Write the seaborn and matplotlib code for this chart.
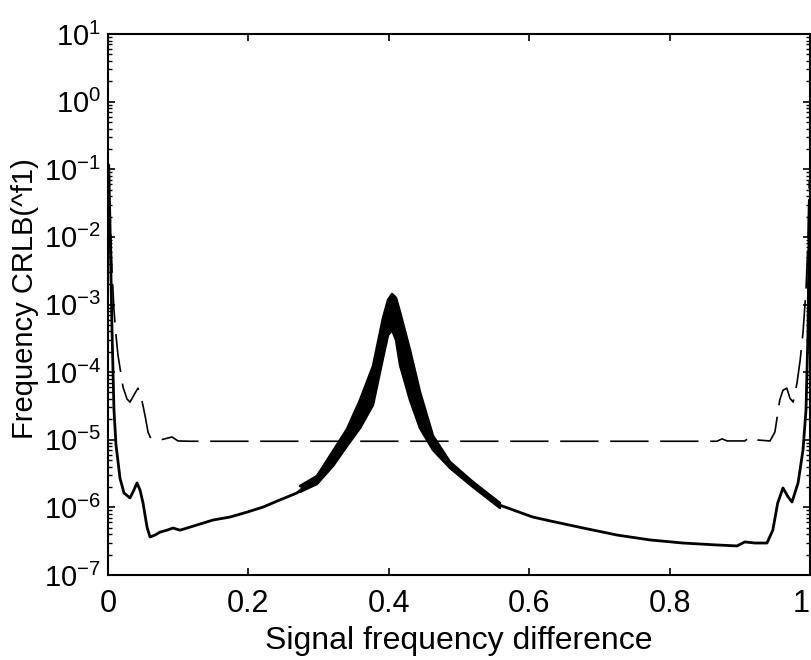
import numpy as np
import pandas as pd
import matplotlib
matplotlib.use("Agg")
import matplotlib.pyplot as plt
import seaborn as sns
from matplotlib.ticker import FixedLocator, FixedFormatter, LogLocator, NullFormatter

# ---- data ----
# solid curve (centre line)
sol_x = [0.001, 0.003, 0.0057, 0.0085, 0.0114, 0.0171, 0.0228, 0.0313, 0.037, 0.0413,
         0.0456, 0.0499, 0.0556, 0.0598, 0.067, 0.074, 0.084, 0.0926, 0.1026, 0.1268,
         0.1496, 0.1738, 0.198, 0.2208, 0.245, 0.269, 0.292, 0.316, 0.340, 0.359,
         0.377, 0.392, 0.400, 0.4046, 0.4088, 0.416, 0.430, 0.444, 0.463, 0.487,
         0.520, 0.558, 0.605, 0.630, 0.677, 0.725, 0.772, 0.819, 0.8675, 0.896,
         0.907, 0.9217, 0.9387, 0.947, 0.954, 0.9615, 0.9687, 0.9744, 0.983, 0.990,
         0.9943, 0.9972, 0.999]
sol_y = [1.16e-1, 1.26e-2, 4.2e-4, 2.75e-5, 8.4e-6, 2.7e-6, 1.63e-6, 1.38e-6, 1.81e-6, 2.3e-6,
         1.81e-6, 1.16e-6, 5.1e-7, 3.65e-7, 3.9e-7, 4.3e-7, 4.6e-7, 4.95e-7, 4.6e-7, 5.5e-7,
         6.5e-7, 7.2e-7, 8.5e-7, 1.01e-6, 1.29e-6, 1.63e-6, 2.45e-6, 4.7e-6, 1.06e-5, 2.75e-5,
         9.1e-5, 3.5e-4, 8.9e-4, 1.29e-3, 9.8e-4, 4.2e-4, 1.07e-4, 4.1e-5, 9.3e-6, 4.2e-6,
         2.3e-6, 1.08e-6, 7.2e-7, 6.3e-7, 4.95e-7, 3.9e-7, 3.3e-7, 2.97e-7, 2.78e-7, 2.69e-7,
         3.08e-7, 2.97e-7, 2.97e-7, 4.6e-7, 1.16e-6, 1.94e-6, 1.43e-6, 1.2e-6, 2.3e-6, 7.0e-6,
         2.75e-5, 4.2e-4, 3.5e-2]

# spread of the solid curve around the peak (upper / lower envelope)
band_x = [0.2735, 0.2977, 0.3205, 0.3405, 0.359, 0.3775, 0.3917, 0.3989, 0.4046,
          0.4103, 0.416, 0.4302, 0.4444, 0.463, 0.4872, 0.52, 0.5584]
band_hi = [2.07e-6, 2.91e-6, 6.8e-6, 1.44e-5, 3.87e-5, 1.23e-4, 6.3e-4, 1.17e-3, 1.43e-3,
           1.25e-3, 7.7e-4, 2.12e-4, 5.1e-5, 1.14e-5, 4.7e-6, 2.37e-6, 1.16e-6]
band_lo = [1.69e-6, 2.22e-6, 4.1e-6, 8.1e-6, 1.49e-5, 3.27e-5, 1.62e-4, 3.54e-4, 4.2e-4,
           2.99e-4, 1.27e-4, 3.87e-5, 1.49e-5, 7.05e-6, 3.82e-6, 2.0e-6, 9.8e-7]

# dashed curve
dash_x = [0.001, 0.003, 0.0057, 0.0085, 0.0114, 0.0142, 0.0171, 0.0214, 0.0271, 0.0313,
          0.037, 0.0427, 0.047, 0.0527, 0.057, 0.0613, 0.074, 0.0855, 0.0912, 0.0997,
          0.117, 0.8675, 0.8746, 0.882, 0.907, 0.9145, 0.926, 0.943, 0.950, 0.957,
          0.9615, 0.967, 0.9715, 0.976, 0.9815, 0.986, 0.990, 0.9943, 0.9972, 0.999]
dash_y = [6.0e-2, 2.1e-2, 3.2e-3, 8.3e-4, 3.5e-4, 1.79e-4, 1.15e-4, 6.0e-5, 4.0e-5, 3.6e-5,
          4.6e-5, 5.8e-5, 4.4e-5, 2.3e-5, 1.3e-5, 1.03e-5, 9.9e-6, 1.06e-5, 1.1e-5, 9.6e-6,
          9.5e-6, 9.5e-6, 1.03e-5, 9.6e-6, 9.6e-6, 1.1e-5, 9.9e-6, 9.6e-6, 1.3e-5, 3.9e-5,
          5.4e-5, 5.8e-5, 4.1e-5, 3.6e-5, 6.9e-5, 1.51e-4, 3.8e-4, 1.64e-3, 9.0e-3, 6.9e-2]

x_ticks = [0, 0.2, 0.4, 0.6, 0.8, 1.0]
x_tick_labels = ["0", "0.2", "0.4", "0.6", "0.8", "1"]
y_exponents = [-7, -6, -5, -4, -3, -2, -1, 0, 1]
y_tick_labels = [r"$\mathdefault{10^{%d}}$" % e for e in y_exponents]

x_label = "Signal frequency difference"
y_label = "Frequency CRLB(^f1)"

# ---- style ----
sns.set_theme(style="ticks")
plt.rcParams["font.family"] = ["Liberation Sans", "DejaVu Sans"]
plt.rcParams["mathtext.fontset"] = "custom"
plt.rcParams["mathtext.rm"] = "Liberation Sans"
plt.rcParams["mathtext.it"] = "Liberation Sans:italic"
plt.rcParams["mathtext.bf"] = "Liberation Sans:bold"

fig = plt.figure(figsize=(8.12, 6.6), dpi=100)
fig.patch.set_facecolor("white")
ax = fig.add_axes([108 / 812, 85 / 660, 702 / 812, 541 / 660])
ax.set_facecolor("white")

# band around the peak
ax.fill_between(band_x, band_lo, band_hi, color="black", lw=0)
sns.lineplot(x=band_x, y=band_hi, ax=ax, color="black", lw=1.8, sort=False, estimator=None)
sns.lineplot(x=band_x, y=band_lo, ax=ax, color="black", lw=1.8, sort=False, estimator=None)
# solid curve
sns.lineplot(x=sol_x, y=sol_y, ax=ax, color="black", lw=2.0, sort=False, estimator=None)
# dashed curve
sns.lineplot(x=dash_x, y=dash_y, ax=ax, color="black", lw=1.2, sort=False, estimator=None)
ax.get_lines()[-1].set_dashes((23, 7))

ax.set_yscale("log")
ax.set_xlim(0, 1)
ax.set_ylim(1e-7, 1e1)

ax.xaxis.set_major_locator(FixedLocator(x_ticks))
ax.xaxis.set_major_formatter(FixedFormatter(x_tick_labels))
ax.yaxis.set_major_locator(FixedLocator([10.0 ** e for e in y_exponents]))
ax.yaxis.set_major_formatter(FixedFormatter(y_tick_labels))
ax.yaxis.set_minor_locator(LogLocator(base=10, subs=np.arange(2, 10), numticks=50))
ax.yaxis.set_minor_formatter(NullFormatter())

for s in ax.spines.values():
    s.set_visible(True)
    s.set_color("black")
    s.set_linewidth(1.5)

ax.tick_params(axis="both", which="major", direction="in", length=5, width=1.2,
               top=True, right=True, colors="black")
ax.tick_params(axis="x", which="major", labelsize=22, pad=10)
ax.tick_params(axis="y", which="major", labelsize=21, pad=5)
ax.tick_params(axis="both", which="minor", direction="in", length=3, width=1.0,
               top=True, right=True, colors="black")

# keep the last x tick label ("1") inside the figure
ax.get_xticklabels()[-1].set_horizontalalignment("right")

ax.set_xlabel(x_label, fontsize=23, labelpad=5, color="black")
ax.set_ylabel(y_label, fontsize=21, color="black")
ax.yaxis.set_label_coords(-0.098, 0.51)

fig.savefig("out.png", dpi=100, facecolor="white")
